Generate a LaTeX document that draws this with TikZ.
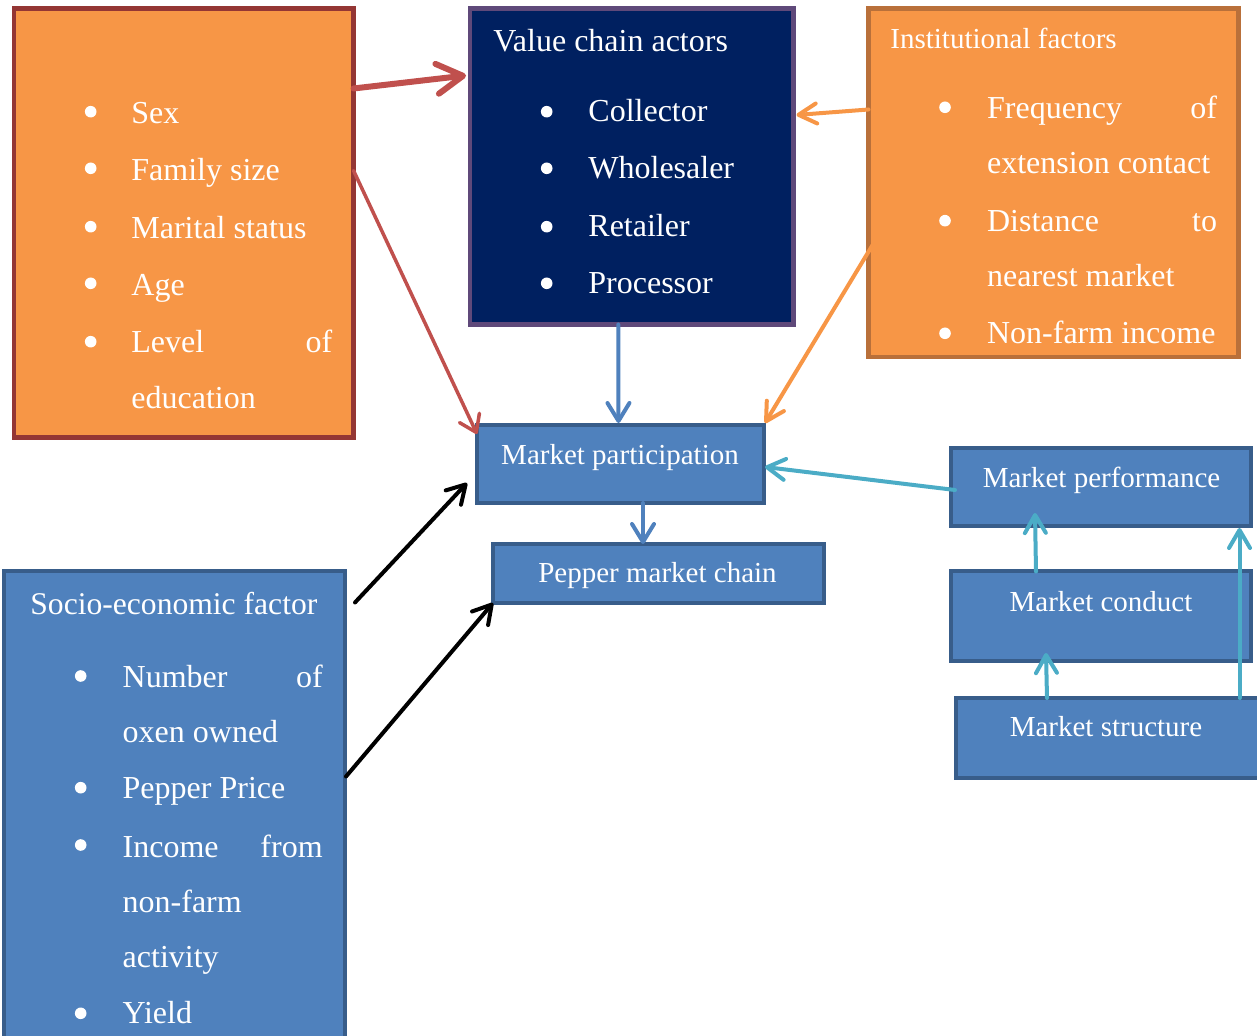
\documentclass[tikz,border=0pt]{standalone}
\usepackage{fontspec}
\setmainfont{Liberation Serif}
\usetikzlibrary{arrows.meta,calc,fit}
\definecolor{orgfill}{HTML}{F79646}
\definecolor{persborder}{HTML}{943634}
\definecolor{instborder}{HTML}{B9703A}
\definecolor{navyfill}{HTML}{002060}
\definecolor{navyborder}{HTML}{5F497A}
\definecolor{bluefill}{HTML}{4F81BD}
\definecolor{blueborder}{HTML}{385D8A}
\definecolor{redarr}{HTML}{C0504D}
\definecolor{orgarr}{HTML}{F79646}
\definecolor{cyanarr}{HTML}{4BACC6}
\definecolor{bluearr}{HTML}{4F81BD}
\begin{document}
\begin{tikzpicture}[x=0.5pt,y=-0.5pt,
  box/.style={draw, line width=2.25pt, inner sep=0pt, outer sep=0pt},
  bbox/.style={box, line width=2pt, fill=bluefill, draw=blueborder},
  item/.style={text=white, inner sep=0pt, anchor=base west, yshift=-1pt, font=\fontsize{16}{19}\selectfont},
  title/.style={text=white, inner sep=0pt, anchor=base west, yshift=-1pt, font=\fontsize{#1}{18}\selectfont},
  lbl/.style={text=white, inner sep=0pt, anchor=base, yshift=-0.5pt, font=\fontsize{14.5}{17}\selectfont},
  bul/.style={fill=white},
  conn/.style={line cap=round, line join=round},
  redthick/.style={conn, draw=redarr, line width=3pt, -{Straight Barb[length=13pt,width=15pt,round]}},
  redthin/.style={conn, draw=redarr, line width=1.75pt, -{Straight Barb[length=8pt,width=11pt,round]}},
  bluea/.style={conn, draw=bluearr, line width=2pt, -{Straight Barb[length=9pt,width=11pt,round]}},
  orga/.style={conn, draw=orgarr, line width=2pt, -{Straight Barb[length=9pt,width=10pt,round]}},
  cyana/.style={conn, draw=cyanarr, line width=2pt, -{Straight Barb[length=9pt,width=10.5pt,round]}},
  blacka/.style={conn, draw=black, line width=2pt, -{Straight Barb[length=9pt,width=10.5pt,round]}}
]
\useasboundingbox (0,0) rectangle (1257,1036);

% ---------- boxes ----------
\node[box, fill=orgfill, draw=persborder, fit={(14,8.5) (353.5,437.5)}] (pers) {};
\node[box, fill=navyfill, draw=navyborder, fit={(470,8.5) (793.5,324.5)}] (vc) {};
\node[box, fill=orgfill, draw=instborder, fit={(868.5,8.5) (1238.5,357)}] (inst) {};
\node[bbox, fit={(477,425) (764,503)}] (mp) {};
\node[bbox, fit={(493,544) (823.5,603)}] (pep) {};
\node[bbox, fit={(950.5,448) (1251,526)}] (perf) {};
\node[bbox, fit={(950.5,571.5) (1251,661)}] (cond) {};
\node[bbox, fit={(955.5,698) (1265,778)}] (struc) {};
\node[bbox, fit={(4,571.5) (345,1050)}] (socio) {};

% ---------- personal factors ----------
\foreach \y in {111.7,168.3,226.7,283.3,341.7} \fill[bul] (90.7,\y) circle[radius=2.9pt];
\node[item] (p1) at (131,122) {Sex};
\node[item] (p2) at (131,179) {Family size};
\node[item] (p3) at (131,237) {Marital status};
\node[item] (p4) at (131,294) {Age};
\node[item] (p5) at (131,351) {\hbox to 100.5pt{Level\hfill of}};
\node[item] (p6) at (131,407) {education};

% ---------- value chain actors ----------
\node[title=16] (vct) at (493,50) {Value chain actors};
\foreach \y in {111.7,168.3,226.7,283.3} \fill[bul] (546.7,\y) circle[radius=2.9pt];
\node[item] (v1) at (588,120) {Collector};
\node[item] (v2) at (588,176.7) {Wholesaler};
\node[item] (v3) at (588,235) {Retailer};
\node[item] (v4) at (588,291.7) {Processor};

% ---------- institutional factors ----------
\node[title=14.5] (instt) at (890,46.7) {Institutional factors};
\foreach \y in {107.3,220.7,333.3} \fill[bul] (945,\y) circle[radius=2.9pt];
\node[item] (i1) at (986.7,116.7) {\hbox to 115pt{Frequency\hfill of}};
\node[item] (i2) at (986.7,171.7) {extension contact};
\node[item] (i3) at (986.7,229.3) {\hbox to 115pt{Distance\hfill to}};
\node[item] (i4) at (986.7,285) {nearest market};
\node[item] (i5) at (986.7,341.7) {Non-farm income};

% ---------- socio-economic ----------
\node[title=15.8] (sot) at (30,612.7) {Socio-economic factor};
\foreach \y in {676,787.7,845,1013.3} \fill[bul] (80.7,\y) circle[radius=2.9pt];
\node[item] (s1) at (122.3,685) {\hbox to 100pt{Number\hfill of}};
\node[item] (s2) at (122.3,740) {oxen owned};
\node[item] (s3) at (122.3,796.7) {Pepper Price};
\node[item] (s4) at (122.3,855) {\hbox to 100pt{Income\hfill from}};
\node[item] (s5) at (122.3,910) {non-farm};
\node[item] (s6) at (122.3,965) {activity};
\node[item] (s7) at (122.3,1021.7) {Yield};

% ---------- box labels ----------
\node[lbl] (mpt) at (620,463.3) {Market participation};
\node[lbl] (pept) at (657.5,581.7) {Pepper market chain};
\node[lbl] (perft) at (1101.5,486.7) {Market performance};
\node[lbl] (condt) at (1101,610) {Market conduct};
\node[lbl] (struct) at (1106,735) {Market structure};

% ---------- connectors ----------
\draw[redthick] ($(pers.north east)+(0,80)$) -- ($(vc.north west)+(-4,67)$);
\draw[redthin] ($(pers.north east)+(0,162)$) -- ($(mp.north west)+(0,9)$);
\draw[bluea] ($(vc.south)+(-13.5,0)$) -- ($(mp.north)+(-2,-2)$);
\draw[orga] ($(inst.north west)+(0,101)$) -- ($(vc.north east)+(3,106.5)$);
\draw[orga] ($(inst.north west)+(8,230)$) -- ($(mp.north east)+(1,-2)$);
\draw[cyana] ($(perf.north west)+(4.5,42)$) -- ($(mp.north east)+(1,42)$);
\draw[bluea] ($(mp.south west)+(166,0)$) -- ($(pep.north west)+(150,0)$);
\draw[blacka] ($(socio.north east)+(10,31)$) -- ($(mp.north west)+(-10,58)$);
\draw[blacka] ($(socio.north east)+(1,205)$) -- (pep.south west);
\draw[cyana] ($(cond.north west)+(85.5,0)$) -- ($(perf.north west)+(84.5,65)$);
\draw[cyana] ($(struc.north west)+(91.5,0)$) -- ($(cond.north west)+(95.5,81.5)$);
\draw[cyana] ($(struc.north west)+(284,0)$) -- ($(perf.south west)+(289,2)$);
\end{tikzpicture}
\end{document}
